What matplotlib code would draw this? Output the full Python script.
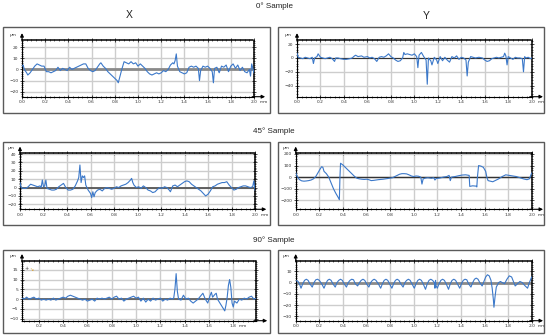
import matplotlib
matplotlib.use("Agg")
import matplotlib.pyplot as plt
from matplotlib.patches import Rectangle
from matplotlib.ticker import AutoMinorLocator

# 0 deg sample, X direction:
x0_x = [0.00, 0.01, 0.02, 0.04, 0.05, 0.07, 0.09, 0.11, 0.13, 0.15,
        0.17, 0.19, 0.21, 0.23, 0.25, 0.27, 0.29, 0.31, 0.33, 0.35,
        0.37, 0.39, 0.41, 0.43, 0.45, 0.47, 0.49, 0.51, 0.53, 0.55,
        0.57, 0.59, 0.61, 0.63, 0.65, 0.67, 0.68, 0.70, 0.72, 0.74,
        0.76, 0.78, 0.80, 0.81, 0.82, 0.83, 0.84, 0.86, 0.88, 0.90,
        0.92, 0.94, 0.96, 0.98, 1.00, 1.02, 1.04, 1.06, 1.08, 1.10,
        1.12, 1.14, 1.16, 1.18, 1.20, 1.22, 1.24, 1.26, 1.28, 1.30,
        1.31, 1.32, 1.33, 1.34, 1.36, 1.38, 1.40, 1.42, 1.44, 1.46,
        1.48, 1.50, 1.52, 1.53, 1.54, 1.56, 1.58, 1.60, 1.62, 1.64,
        1.65, 1.66, 1.68, 1.70, 1.72, 1.74, 1.76, 1.78, 1.80, 1.82,
        1.84, 1.86, 1.88, 1.90, 1.92, 1.94, 1.96, 1.97, 1.98, 2.00]
x0_y = [3, 4, 0, -3, -5, -3, 0, 3, 5, 4,
        3, 3, -2, -2, -3, -2, -1, 2, -1, 1,
        0, -1, 2, 0, 1, 2, 3, 4, 5, 5,
        1, -1, -2, -1, 2, 5, 6, 3, 1, -2,
        -4, -6, -8, -9, -10, -12, -8, 0, 7, 6,
        5, 7, 5, 6, 3, 5, 3, 1, -2, -4,
        -5, -4, -3, -4, -3, -1, -2, 0, 4, 6,
        5, 8, 14, 3, -2, -3, -4, -3, 2, 3,
        2, 3, 1, -10, -1, 3, 2, 3, 1, -2,
        -12, 1, 2, -3, 3, 2, 4, -2, 3, 5,
        1, 4, -1, 2, -2, -3, 0, -6, 5, -3]

# 0 deg sample, Y direction:
y0_x = [0.00, 0.01, 0.03, 0.05, 0.07, 0.09, 0.11, 0.13, 0.14, 0.15,
        0.17, 0.18, 0.20, 0.22, 0.24, 0.26, 0.28, 0.30, 0.32, 0.33,
        0.35, 0.37, 0.40, 0.42, 0.45, 0.47, 0.49, 0.50, 0.52, 0.55,
        0.57, 0.60, 0.62, 0.64, 0.66, 0.68, 0.70, 0.72, 0.74, 0.76,
        0.78, 0.80, 0.82, 0.84, 0.86, 0.88, 0.90, 0.91, 0.92, 0.94,
        0.96, 0.98, 1.00, 1.02, 1.03, 1.04, 1.06, 1.08, 1.10, 1.11,
        1.12, 1.14, 1.15, 1.17, 1.19, 1.20, 1.22, 1.24, 1.26, 1.28,
        1.30, 1.32, 1.34, 1.36, 1.38, 1.40, 1.42, 1.44, 1.45, 1.46,
        1.48, 1.50, 1.52, 1.55, 1.58, 1.60, 1.62, 1.64, 1.66, 1.68,
        1.70, 1.72, 1.74, 1.76, 1.77, 1.78, 1.79, 1.80, 1.82, 1.84,
        1.86, 1.88, 1.90, 1.92, 1.93, 1.94, 1.95, 1.97, 1.99, 2.00]
y0_y = [7, 1, 0, -1, 1, 0, -1, 1, -8, 0,
        2, 6, 1, 0, -1, 0, 1, -1, -5, 0,
        0, -1, -2, -2, -1, 0, 3, 4, 2, 3,
        1, 2, 0, 1, -1, -5, 1, 2, 1, 3,
        6, 2, 0, -3, -5, -4, 0, 8, 5, 6,
        5, 4, 6, 2, -14, 4, 8, 2, -3, -38,
        0, -4, -10, 1, -3, -8, 2, -4, 1, -3,
        -6, 2, 0, 3, -2, 1, 0, -3, -26, -6,
        2, 1, 0, 1, 0, -3, -5, -4, -1, 0,
        1, 0, 1, 2, 7, 3, -10, 2, 0, -2,
        1, 0, 0, -1, -20, 2, 0, 1, -1, 0]

# 45 deg sample, X direction:
x45_x = [0.00, 0.01, 0.03, 0.05, 0.07, 0.09, 0.11, 0.13, 0.15, 0.17,
         0.18, 0.19, 0.20, 0.21, 0.22, 0.23, 0.25, 0.27, 0.29, 0.31,
         0.33, 0.35, 0.37, 0.39, 0.41, 0.43, 0.45, 0.47, 0.48, 0.49,
         0.50, 0.51, 0.52, 0.53, 0.54, 0.55, 0.56, 0.57, 0.58, 0.60,
         0.61, 0.62, 0.63, 0.64, 0.66, 0.68, 0.70, 0.72, 0.74, 0.76,
         0.78, 0.80, 0.82, 0.84, 0.86, 0.88, 0.90, 0.92, 0.94, 0.95,
         0.96, 0.97, 0.99, 1.01, 1.03, 1.05, 1.07, 1.09, 1.11, 1.13,
         1.15, 1.17, 1.19, 1.21, 1.23, 1.25, 1.27, 1.28, 1.30, 1.32,
         1.34, 1.36, 1.38, 1.40, 1.42, 1.44, 1.46, 1.48, 1.50, 1.52,
         1.54, 1.56, 1.58, 1.60, 1.62, 1.64, 1.66, 1.68, 1.70, 1.72,
         1.74, 1.76, 1.78, 1.80, 1.82, 1.84, 1.86, 1.88, 1.90, 1.92,
         1.94, 1.96, 1.98, 1.99, 2.00]
x45_y = [6, 0, -1, -1, 1, 4, 3, 2, 1, 2,
         0, 9, 1, 2, 9, -1, -2, -3, -3, -2,
         1, 3, 5, 0, -3, -3, -2, 2, 5, 8,
         12, 27, 6, 14, 12, 14, 3, 0, -3, -7,
         -12, -5, -11, -6, -3, -2, -4, -1, 0, -1,
         -2, -1, 1, 0, 2, 3, 4, 6, 9, 11,
         6, 3, 0, 1, -1, 2, 0, -3, -4, -6,
         -5, -2, 0, -1, 1, 0, -3, -5, 2, 3,
         1, 3, 5, 7, 8, 7, 4, 2, 0, -2,
         -4, -7, -10, -8, -4, 1, 2, 4, 5, 6,
         6, 7, 3, 0, -3, -2, 0, 1, 2, 2,
         1, 0, 1, 8, -3]

# 45 deg sample, Y direction:
y45_x = [0.00, 0.01, 0.03, 0.05, 0.07, 0.09, 0.11, 0.13, 0.15, 0.17,
         0.19, 0.21, 0.22, 0.23, 0.24, 0.26, 0.28, 0.30, 0.32, 0.34,
         0.36, 0.37, 0.375, 0.38, 0.40, 0.42, 0.44, 0.46, 0.48, 0.50,
         0.52, 0.54, 0.56, 0.58, 0.60, 0.62, 0.64, 0.66, 0.68, 0.70,
         0.74, 0.78, 0.82, 0.86, 0.88, 0.90, 0.92, 0.94, 0.96, 0.98,
         1.00, 1.02, 1.04, 1.06, 1.07, 1.08, 1.10, 1.12, 1.15, 1.17,
         1.18, 1.19, 1.22, 1.25, 1.28, 1.30, 1.31, 1.32, 1.35, 1.38,
         1.41, 1.44, 1.47, 1.475, 1.50, 1.53, 1.535, 1.54, 1.55, 1.57,
         1.59, 1.61, 1.62, 1.63, 1.65, 1.67, 1.69, 1.72, 1.75, 1.78,
         1.81, 1.84, 1.87, 1.90, 1.93, 1.96, 1.98, 2.00]
y45_y = [40, 10, -20, -32, -35, -33, -30, -25, -15, 5,
         40, 75, 90, 85, 50, 30, 0, -50, -100, -140,
         -175, -195, 0, 120, 105, 85, 65, 45, 25, 5,
         -10, -15, -18, -20, -18, -22, -30, -28, -25, -22,
         -18, -12, -5, 15, 25, 30, 30, 28, 20, 10,
         5, 10, 8, 0, -60, -15, -8, -5, -10, -5,
         -25, -12, -8, 0, 5, 15, -30, 0, 5, 12,
         18, 20, 15, -80, -75, -78, -85, 0, 100, 95,
         85, 50, 0, -30, -35, -40, -30, -15, 5, 20,
         15, 10, 5, -5, -15, -22, -15, 35]

# 90 deg sample, X direction:
x90_x = [0.06, 0.08, 0.10, 0.12, 0.14, 0.16, 0.18, 0.20, 0.22, 0.24,
         0.26, 0.28, 0.30, 0.32, 0.34, 0.36, 0.38, 0.40, 0.42, 0.44,
         0.46, 0.48, 0.50, 0.52, 0.54, 0.56, 0.58, 0.60, 0.62, 0.64,
         0.66, 0.68, 0.70, 0.72, 0.74, 0.76, 0.78, 0.80, 0.82, 0.84,
         0.86, 0.88, 0.90, 0.92, 0.94, 0.96, 0.98, 1.00, 1.02, 1.04,
         1.06, 1.08, 1.10, 1.12, 1.14, 1.16, 1.18, 1.20, 1.22, 1.24,
         1.26, 1.28, 1.30, 1.31, 1.32, 1.33, 1.34, 1.35, 1.37, 1.39,
         1.41, 1.43, 1.45, 1.47, 1.49, 1.51, 1.53, 1.55, 1.57, 1.59,
         1.61, 1.62, 1.63, 1.65, 1.66, 1.67, 1.69, 1.71, 1.73, 1.74,
         1.75, 1.76, 1.77, 1.78, 1.79, 1.80, 1.81, 1.83, 1.85, 1.87,
         1.89, 1.91, 1.93, 1.95, 1.97, 1.99]
x90_y = [0.5, 0, 1, 0, 0.5, 1, 0, 0.5, -0.5, 0,
         -0.5, 0, -0.5, 0.5, -0.5, 0, 0.5, 1, 0.5, 1.5,
         2, 1.5, 1, 0.5, 0, -0.5, 0, -1, -0.5, 0,
         -1, 0.5, 0, 0.5, 0, 0.5, 1, 0, 1, 1.5,
         0, 0.5, -1, 0, 0.5, 1, 1.5, 0.5, 1, -1,
         0.5, -1.5, 0, -1, 0.5, -0.5, 0, 0.5, -1, 0,
         -0.5, 0.5, 0, 0.5, 5, 13, 4, 0, -0.5, 2,
         0, 0.5, -1, -2, -1, 0, 1.5, 3, 0, -2,
         2, 3.5, 1, 2.5, 3, 0, -2, -4, -6, -3,
         1, 7, 10, 6, -2, -4, -1, -2, 0, -0.5,
         0.5, 0, 1, 1.5, 0, 0.5]

# 90 deg sample, Y direction:
y90_x = [0.000, 0.020, 0.035, 0.045, 0.060, 0.075, 0.090, 0.105, 0.120, 0.140,
         0.155, 0.170, 0.185, 0.200, 0.220, 0.240, 0.255, 0.270, 0.285, 0.300,
         0.315, 0.335, 0.350, 0.365, 0.380, 0.395, 0.410, 0.430, 0.445, 0.460,
         0.475, 0.490, 0.505, 0.525, 0.540, 0.555, 0.570, 0.585, 0.600, 0.620,
         0.635, 0.650, 0.665, 0.680, 0.700, 0.720, 0.735, 0.750, 0.765, 0.780,
         0.795, 0.815, 0.830, 0.845, 0.860, 0.875, 0.890, 0.910, 0.925, 0.940,
         0.955, 0.970, 0.985, 1.005, 1.020, 1.035, 1.050, 1.065, 1.080, 1.100,
         1.115, 1.130, 1.145, 1.160, 1.175, 1.180, 1.185, 1.190, 1.200, 1.215,
         1.230, 1.245, 1.260, 1.275, 1.295, 1.310, 1.325, 1.340, 1.355, 1.370,
         1.390, 1.405, 1.420, 1.435, 1.450, 1.465, 1.485, 1.500, 1.515, 1.530,
         1.545, 1.560, 1.580, 1.595, 1.610, 1.625, 1.640, 1.655, 1.665, 1.675,
         1.680, 1.690, 1.700, 1.720, 1.735, 1.750, 1.770, 1.790, 1.810, 1.830,
         1.845, 1.860, 1.880, 1.900, 1.920, 1.945, 1.965, 1.980, 2.000]
y90_y = [2, 1, -2, -5, -1, 2, 3, 2, -1, -4,
         0, 2.5, 3, 2, -1, -5, -1, 2, 3, 2,
         -1, -4, 0, 2, 3, 2, -1, -4, 0, 2,
         3, 2.5, -1, -3, 0, 2, 3, 2, -1, -4,
         0, 2, 3, 2, -1, -5, -1, 2, 3, 2,
         -1, -5, -1, 2, 3, 2, -1, -4, 0, 2,
         3, 2, -1, -5, -1, 2, 3, 2, -1, -6,
         -1, 2, 3, 2, 0, -5, 2, -3, -5, -1,
         2, 3, 2, -1, -6, -1, 2, 3, 2, -1,
         -5, -1, 2, 3, 2.5, -1, -4, 0, 3, 4,
         3, 0, -3, 1, 5, 7, 6, 2, -5, -15,
         -22, -12, -4, 0, 1, 0, -1, 3, 6, 5,
         1, -3, -1, 1, 0, -3, -5, 0, 5]

# figure size in pixels:
W, H = 550, 336
LINE_BLUE = "#3b78c9"

fig = plt.figure(figsize=(W / 100, H / 100), dpi=100)
fig.patch.set_facecolor("white")


# Function to convert pixel boxes to figure fractions:
def px_rect(x0, y0, x1, y1):
    return [x0 / W, 1 - y1 / H, (x1 - x0) / W, (y1 - y0) / H]


# Function to draw one profile panel:
def draw_panel(box, axbox, xs, ys, xlim, ylim, xticks, yticks, zero_color, zero_lw):
    """
    draws the frame, the axes and the profile line
    """
    bx = px_rect(*box)
    fig.add_artist(Rectangle((bx[0], bx[1]), bx[2], bx[3], transform=fig.transFigure,
                             fill=False, edgecolor="#5a5a5a", lw=1.0))

    ax = fig.add_axes(px_rect(*axbox))
    ax.set_xlim(*xlim)
    ax.set_ylim(*ylim)
    ax.set_xticks(xticks)
    ax.set_yticks(yticks)
    ax.set_xticklabels([f"{t:.1f}" for t in xticks])
    ax.set_yticklabels([f"{t:g}".replace("-", "\u2212") for t in yticks])
    ax.grid(True, color="#cdcdcd", lw=1.0)
    ax.set_axisbelow(True)

    # zero line and profile:
    ax.axhline(0, color=zero_color, lw=zero_lw, zorder=2)
    ax.plot(xs, ys, color=LINE_BLUE, lw=0.8, zorder=3)

    # axes styling:
    for side in ["left", "bottom"]:
        ax.spines[side].set_color("black")
        ax.spines[side].set_linewidth(0.8)
    for side in ["top", "right"]:
        ax.spines[side].set_color("black")
        ax.spines[side].set_linewidth(1.1)
        ax.spines[side].set_linestyle((0, (1, 1)))
    ax.xaxis.set_minor_locator(AutoMinorLocator(5))
    ax.yaxis.set_minor_locator(AutoMinorLocator(5))
    ax.tick_params(which="major", direction="inout", length=3, width=0.5,
                   top=True, right=True, labelsize=3.2, labelcolor="#333333", pad=1.2)
    ax.tick_params(which="minor", direction="inout", length=1.6, width=0.4,
                   top=True, right=True)

    # axis arrows and units:
    ax.annotate("", xy=(0, 1.17), xytext=(0, 0.95), xycoords="axes fraction",
                arrowprops=dict(arrowstyle="-|>", lw=0.8, color="black", mutation_scale=5))
    ax.annotate("", xy=(1.06, 0), xytext=(0.98, 0), xycoords="axes fraction",
                arrowprops=dict(arrowstyle="-|>", lw=0.8, color="black", mutation_scale=5))
    ax.text(-0.025, 1.09, "\u00b5m", transform=ax.transAxes, ha="right", va="center",
            fontsize=3.2, color="#333333")
    ax.annotate("mm", xy=(xticks[-1], 0), xycoords=ax.get_xaxis_transform(),
                xytext=(4, -2.6), textcoords="offset points", ha="left", va="top",
                fontsize=3.2, color="#333333")
    return ax


# titles:
title_font = dict(family=["Liberation Sans", "DejaVu Sans"], color="#222222")
for label, ypx in [("0\u00b0 Sample", 6), ("45\u00b0 Sample", 131), ("90\u00b0 Sample", 240)]:
    fig.text(274 / W, 1 - ypx / H, label, ha="center", va="center", fontsize=5.8, **title_font)
fig.text(129 / W, 1 - 15 / H, "X", ha="center", va="center", fontsize=7.5, **title_font)
fig.text(426 / W, 1 - 16 / H, "Y", ha="center", va="center", fontsize=7.5, **title_font)

mm_ticks = [0.0, 0.2, 0.4, 0.6, 0.8, 1.0, 1.2, 1.4, 1.6, 1.8, 2.0]

# 0 deg row:
draw_panel((3, 27, 270, 113), (22, 40, 254, 96.7), x0_x, x0_y, (0, 2.0), (-24.5, 26.5),
           mm_ticks, [-20, -10, 0, 10, 20], "#8a8a8a", 2.0)
draw_panel((278, 27, 544, 113), (297, 40, 531.7, 96.7), y0_x, y0_y, (0, 2.0), (-56, 26),
           mm_ticks, [-40, -20, 0, 20], "#333333", 0.8)

# 45 deg row:
draw_panel((3, 142, 270, 225), (20, 153.3, 255, 209.3), x45_x, x45_y, (0, 2.0), (-26, 41),
           mm_ticks, [-20, -10, 0, 10, 20, 30, 40], "#555555", 1.3)
draw_panel((278, 142, 544, 225), (295.7, 153.3, 531.7, 209.3), y45_x, y45_y, (0, 2.0), (-278, 206),
           mm_ticks, [-200, -100, 0, 100, 200], "#333333", 1.0)

# 90 deg row:
ax5 = draw_panel((3, 250, 270, 333), (22, 261.3, 256, 320.7), x90_x, x90_y, (0.062, 1.987), (-11, 19.3),
                 [0.2, 0.4, 0.6, 0.8, 1.0, 1.2, 1.4, 1.6, 1.8], [-10, -5, 0, 5, 10, 15], "#555555", 1.2)
ax5.text(0.012, 0.86, "+", transform=ax5.transAxes, fontsize=3.5, color="#444444")
ax5.text(0.03, 0.84, "\u2198", transform=ax5.transAxes, fontsize=3.5, color="#d9a030")
draw_panel((278, 250, 544, 333), (295.7, 261.3, 531.7, 320.7), y90_x, y90_y, (0, 2.0), (-34, 19),
           mm_ticks, [-30, -20, -10, 0, 10], "#8a8a8a", 2.0)

fig.savefig("out.png", dpi=100, facecolor="white")
